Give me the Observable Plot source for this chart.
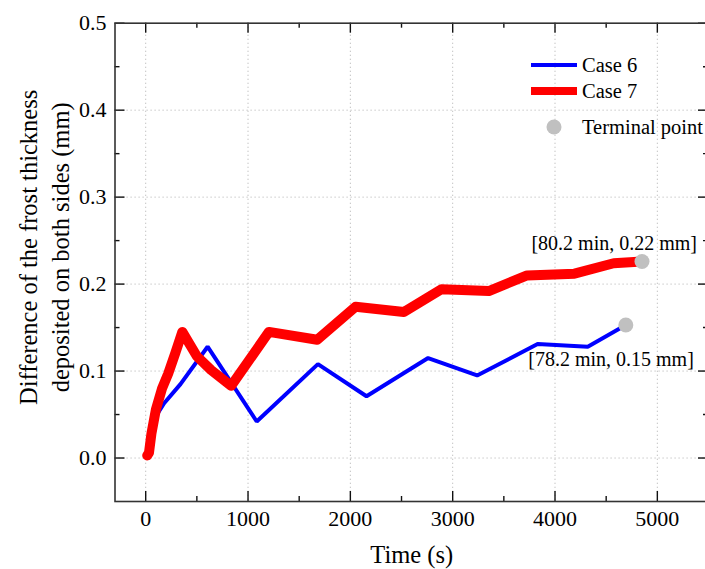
<!DOCTYPE html>
<html><head><meta charset="utf-8">
<script src="https://cdn.jsdelivr.net/npm/d3@7"></script>
<script src="https://cdn.jsdelivr.net/npm/@observablehq/plot@0.6"></script>
<style>
html,body{margin:0;padding:0;background:#fff;overflow:hidden;}
#wrap{position:relative;width:705px;height:569px;font-family:"Liberation Serif","Times New Roman",serif;}
#legend{position:absolute;left:0;top:0;pointer-events:none;}
</style></head><body><div id="wrap"></div>
<script>
// Case 6 (blue)
const case6Time  = [15, 60, 100, 180, 340, 605, 1085, 1683, 2158, 2760, 3239, 3830, 4320, 4692];
const case6Value = [0.003, 0.030, 0.048, 0.063, 0.085, 0.128, 0.042, 0.108, 0.071, 0.115, 0.095, 0.131, 0.128, 0.153];
// Case 7 (red)
const case7Time  = [15, 32, 56, 100, 160, 220, 290, 358, 500, 640, 835, 1204, 1676, 2051, 2523, 2890, 3353, 3727, 4190, 4573, 4850];
const case7Value = [0.003, 0.006, 0.028, 0.056, 0.080, 0.097, 0.121, 0.145, 0.117, 0.101, 0.083, 0.145, 0.136, 0.174, 0.168, 0.194, 0.192, 0.210, 0.212, 0.224, 0.226];
// Terminal points
const terminalTime  = [4692, 4850];
const terminalValue = [0.153, 0.226];
const terminalLabel = ["[78.2 min, 0.15 mm]", "[80.2 min, 0.22 mm]"];
// Ticks
const xMajor = [0, 1000, 2000, 3000, 4000, 5000];
const xMinor = [500, 1500, 2500, 3500, 4500, 5500];
const yMajor = [0.0, 0.1, 0.2, 0.3, 0.4, 0.5];
const yMinor = [0.05, 0.15, 0.25, 0.35, 0.45];
const seriesNames = ["Case 6", "Case 7"];
const seriesColors = ["#0000ff", "#ff0000"];
const terminalName = "Terminal point";

const W = 705, H = 569;
const mL = 114.5, mR = -3, mT = 22.7, mB = 68;
const innerW = W - mL - mR, innerH = H - mT - mB;

const case6 = case6Time.map((t, i) => ({t, v: case6Value[i]}));
const case7 = case7Time.map((t, i) => ({t, v: case7Value[i]}));
const terms = terminalTime.map((t, i) => ({t, v: terminalValue[i], label: terminalLabel[i]}));

const gridStyle = {stroke: "#bbbbbb", strokeOpacity: 1, strokeWidth: 1, strokeDasharray: "1.2,2.8"};
const tickStyle = {stroke: "#111", strokeWidth: 1.4};

const chart = Plot.plot({
  width: W, height: H,
  marginLeft: mL, marginRight: mR, marginTop: mT, marginBottom: mB,
  style: {fontFamily: "'Liberation Serif','Times New Roman',serif", fontSize: "20px", background: "#fff", color: "#000", overflow: "visible"},
  x: {domain: [-300, 5500]},
  y: {domain: [-0.05, 0.5]},
  marks: [
    Plot.gridX(xMajor, gridStyle),
    Plot.gridY(yMajor.filter(v => v < 0.5), gridStyle),
    // inward ticks bottom / top
    Plot.tickX(xMajor, {x: d => d, insetTop: innerH - 10, ...tickStyle}),
    Plot.tickX(xMinor, {x: d => d, insetTop: innerH - 5, ...tickStyle}),
    Plot.tickX(xMajor, {x: d => d, insetBottom: innerH - 10, ...tickStyle}),
    Plot.tickX(xMinor, {x: d => d, insetBottom: innerH - 5, ...tickStyle}),
    // inward ticks left / right
    Plot.tickY(yMajor, {y: d => d, insetRight: innerW - 10, ...tickStyle}),
    Plot.tickY(yMinor, {y: d => d, insetRight: innerW - 5, ...tickStyle}),
    Plot.tickY(yMajor, {y: d => d, insetLeft: innerW - 10, ...tickStyle}),
    Plot.tickY(yMinor, {y: d => d, insetLeft: innerW - 5, ...tickStyle}),
    Plot.frame({stroke: "#333", strokeWidth: 1.6}),
    Plot.axisX(xMajor, {tickSize: 0, tickPadding: 9, fontSize: 22, label: null, tickFormat: d => String(d)}),
    Plot.axisY(yMajor, {tickSize: 0, tickPadding: 8.5, fontSize: 22, label: null, tickFormat: d => d.toFixed(1)}),
    Plot.line(case6, {x: "t", y: "v", stroke: seriesColors[0], strokeWidth: 4, strokeLinejoin: "miter", strokeLinecap: "butt"}),
    Plot.line(case7, {x: "t", y: "v", stroke: seriesColors[1], strokeWidth: 10, strokeLinejoin: "round", strokeLinecap: "round"}),
    Plot.dot(terms, {x: "t", y: "v", r: 7.5, fill: "#c0c0c0", stroke: "none"}),
    Plot.text(terms.slice(1), {x: "t", y: "v", text: "label", textAnchor: "end", dx: 55, dy: -17.5, fontSize: 20, fill: "#000"}),
    Plot.text(terms.slice(0, 1), {x: "t", y: "v", text: "label", textAnchor: "end", dx: 68, dy: 35, fontSize: 20, fill: "#000"}),
    Plot.text(["Time (s)"], {frameAnchor: "bottom", lineAnchor: "middle", dy: 54, fontSize: 24.5, fill: "#000"}),
    Plot.text(["Difference of the frost thickness\ndeposited on both sides (mm)"],
      {frameAnchor: "left", textAnchor: "middle", lineAnchor: "middle", rotate: -90, dx: -72, dy: -15, lineHeight: 1.27, fontSize: 24.5, fill: "#000"})
  ]
});
const wrap = document.getElementById("wrap");
wrap.appendChild(chart);

// Legend (overlay)
const ns = "http://www.w3.org/2000/svg";
const lg = document.createElementNS(ns, "svg");
lg.setAttribute("id", "legend");
lg.setAttribute("width", W); lg.setAttribute("height", H);
const items = [
  {type: "line", color: seriesColors[0], width: 4, name: seriesNames[0], y: 65},
  {type: "line", color: seriesColors[1], width: 8, name: seriesNames[1], y: 91},
  {type: "dot", color: "#c0c0c0", name: terminalName, y: 127}
];
for (const it of items) {
  if (it.type === "line") {
    const l = document.createElementNS(ns, "line");
    l.setAttribute("x1", 531); l.setAttribute("x2", 577);
    l.setAttribute("y1", it.y); l.setAttribute("y2", it.y);
    l.setAttribute("stroke", it.color); l.setAttribute("stroke-width", it.width);
    lg.appendChild(l);
  } else {
    const c = document.createElementNS(ns, "circle");
    c.setAttribute("cx", 554); c.setAttribute("cy", it.y); c.setAttribute("r", 7.5);
    c.setAttribute("fill", it.color);
    lg.appendChild(c);
  }
  const t = document.createElementNS(ns, "text");
  t.setAttribute("x", 582); t.setAttribute("y", it.y + 7);
  t.setAttribute("font-family", "'Liberation Serif','Times New Roman',serif");
  t.setAttribute("font-size", 20.5);
  t.setAttribute("fill", "#000");
  t.textContent = it.name;
  lg.appendChild(t);
}
wrap.appendChild(lg);
</script>
</body></html>
